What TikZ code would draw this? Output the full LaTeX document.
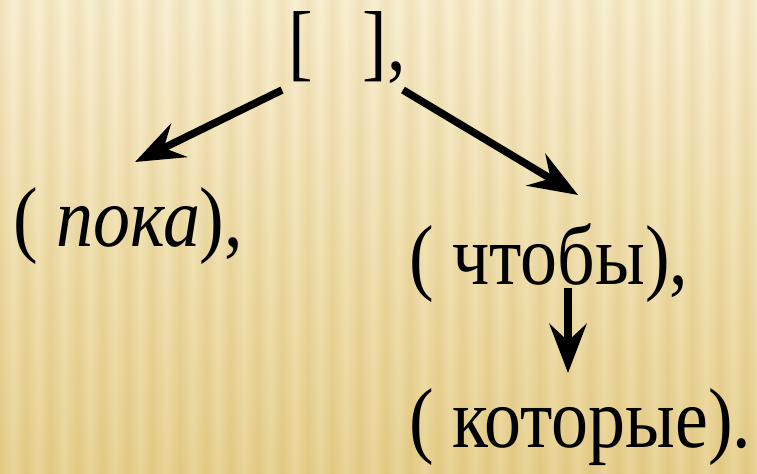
\documentclass[tikz,border=0pt]{standalone}
\usepackage{fontspec}
\setmainfont{Liberation Serif}[FakeStretch=0.87]
\usetikzlibrary{arrows.meta}
\definecolor{stripelight}{RGB}{246,232,186}
\definecolor{stripedark}{RGB}{233,212,152}
\definecolor{sand}{RGB}{212,178,88}

\tikzset{
  clause/.style={inner sep=0pt, anchor=base west, font=\fontsize{85bp}{96bp}\selectfont},
  link/.style={line width=7.5bp, -{Stealth[length=49bp,width=37bp,inset=17bp]}}
}

\begin{document}
\begin{tikzpicture}[x=1bp, y=-1bp]
        \useasboundingbox (0,0) rectangle (757,474);
        % striped background
        \foreach \x/\w in {0/13,26/12,50/14,78/12,102/13,128/12,152/14,180/13,206/12,230/14,258/12,282/13,308/12,332/14,360/13,386/12,410/14,438/12,462/13,488/12,512/14,540/13,566/12,590/14,618/12,642/13,668/12,692/14,720/13,746/12} {
          \shade[left color=stripedark, right color=stripelight] (\x,0) rectangle ++(\w,474);
          \shade[left color=stripelight, right color=stripedark] (\x+\w,0) rectangle ++(\w,474);
        }
        \shade[top color=white, bottom color=sand, opacity=0.35] (0,0) rectangle (757,474);

        \node[clause] (main) at (288,71) {[\hspace{50bp}],};
        \node[clause] (poka) at (13,247) {( \textit{пока}),};
        \node[clause] (chtoby) at (409,285) {( чтобы),};
        \node[clause] (kotorye) at (409,447) {( которые).};

        \draw[link] ([xshift=-6bp,yshift=-19bp]main.base west) -- ([xshift=122bp,yshift=85bp]poka.base west);
        \draw[link] ([xshift=115bp,yshift=-19bp]main.base west) -- ([xshift=169bp,yshift=90bp]chtoby.base west);
        \draw[link] ([xshift=159bp,yshift=-3bp]chtoby.base west) -- ([xshift=159bp,yshift=74bp]kotorye.base west);
      \end{tikzpicture}
\end{document}
